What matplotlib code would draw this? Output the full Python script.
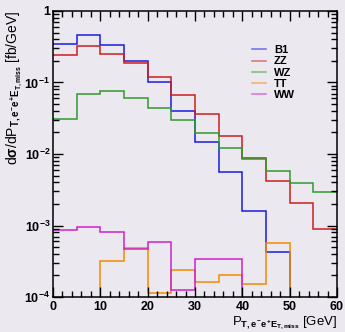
import numpy as np
import matplotlib
matplotlib.use('Agg')
import matplotlib.pyplot as plt
from matplotlib.ticker import MultipleLocator, LogLocator, FuncFormatter

# bin edges in P_T [GeV]
edges = np.arange(0, 65, 5)

# cross sections per bin [fb/GeV]
b1 = [0.346, 0.457, 0.335, 0.202, 0.102, 0.040, 0.0149, 0.00555, 0.00161, 0.000422, 0, 0]
zz = [0.24, 0.32, 0.253, 0.186, 0.121, 0.0675, 0.0359, 0.018, 0.0088, 0.0042, 0.00204, 0.000885]
wz = [0.031, 0.068, 0.076, 0.061, 0.044, 0.0303, 0.0199, 0.012, 0.0085, 0.0057, 0.0039, 0.00297]
tt = [0, 0, 0.000316, 0.00048, 0.000114, 0.000236, 0.00016, 0.0002, 0.000153, 0.000564, 0, 0]
ww = [0.000865, 0.000944, 0.00081, 0.000465, 0.000589, 0.000126, 0.000337, 0.00034, 0, 0, 0, 0]

labels = ['B1', 'ZZ', 'WZ', 'TT', 'WW']
colors = ['#1a1ae0', '#cc1f1f', '#2e9a2e', '#f08c00', '#cc22cc']

plt.rcParams['font.family'] = ['Liberation Sans', 'DejaVu Sans']
plt.rcParams['font.weight'] = 'bold'
plt.rcParams['mathtext.fontset'] = 'custom'
plt.rcParams['mathtext.rm'] = 'Liberation Sans:bold'
plt.rcParams['mathtext.bf'] = 'Liberation Sans:bold'
plt.rcParams['mathtext.it'] = 'Liberation Sans:bold'

bg = '#ece8f0'
fig = plt.figure(figsize=(3.45, 3.32), dpi=100, facecolor=bg)
ax = fig.add_axes([0.1536, 0.1054, 0.8232, 0.8615], facecolor=bg)

for vals, lab, col in zip([b1, zz, wz, tt, ww], labels, colors):
    ax.stairs(vals, edges, baseline=None, color=col, linewidth=1.1, label=lab)

ax.set_yscale('log')
ax.set_xlim(0, 60)
ax.set_ylim(1e-4, 1)

ax.xaxis.set_major_locator(MultipleLocator(10))
ax.xaxis.set_minor_locator(MultipleLocator(2))
ax.yaxis.set_major_locator(LogLocator(base=10, numticks=10))
ax.yaxis.set_minor_locator(LogLocator(base=10, subs=np.arange(2, 10), numticks=20))


def fmt(v, pos):
    e = int(round(np.log10(v)))
    if e == 0:
        return '1'
    return r'$10^{%d}$' % e


ax.yaxis.set_major_formatter(FuncFormatter(fmt))
ax.tick_params(which='both', direction='in', top=True, right=True, labelsize=9, width=1)
ax.tick_params(which='major', length=7)
ax.tick_params(which='minor', length=4)
ax.tick_params(axis='x', pad=3)
ax.tick_params(axis='y', pad=2)
for s in ax.spines.values():
    s.set_linewidth(1.1)

ax.set_xlabel(r'P$_{T,e^{-}e^{+}E_{T,miss}}$ [GeV]', fontsize=9.5, loc='right', labelpad=1)
ax.set_ylabel(r'd$\sigma$/dP$_{T,e^{-}e^{+}E_{T,miss}}$ [fb/GeV]', fontsize=10, loc='top', labelpad=0)

leg = ax.legend(loc='upper left', bbox_to_anchor=(0.665, 0.915), frameon=False, fontsize=8,
                handlelength=1.25, handletextpad=0.75, labelspacing=0.1)
for h in leg.get_lines():
    h.set_alpha(0.6)

plt.savefig('out.png', dpi=100, facecolor=bg)
